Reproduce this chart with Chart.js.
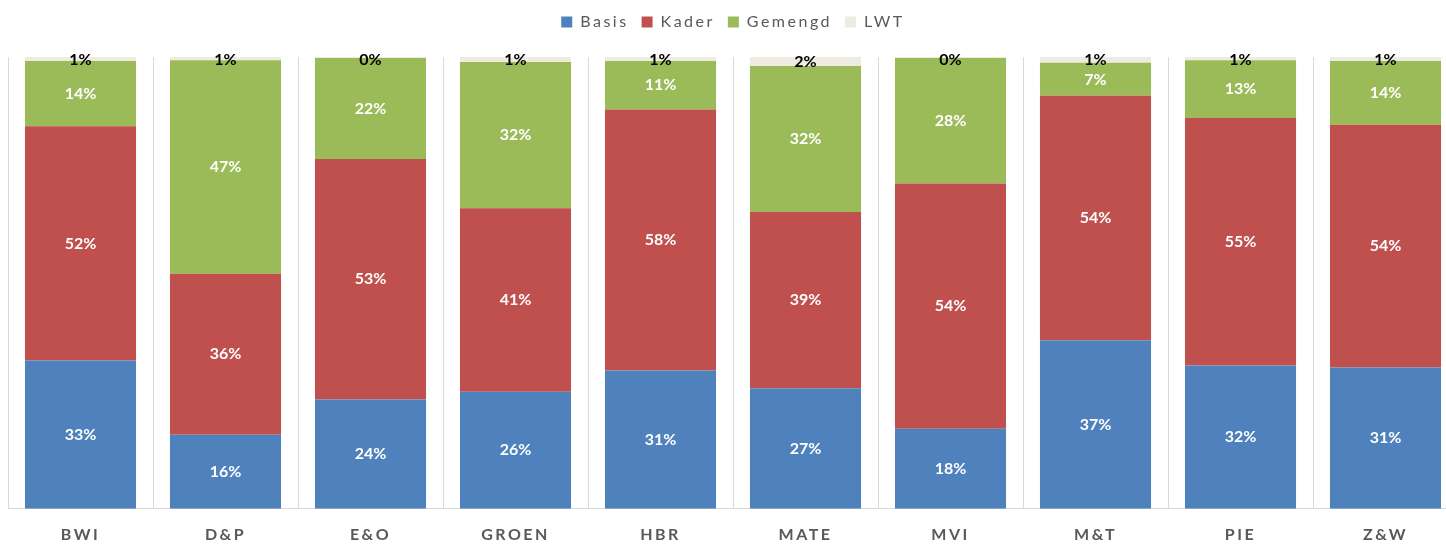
<!DOCTYPE html>
<html>
<head>
<meta charset="utf-8">
<script src="https://cdn.jsdelivr.net/npm/chart.js@4/dist/chart.umd.min.js"></script>
<style>
  html, body { margin: 0; padding: 0; background: #fff; overflow: hidden; }
  #wrap { width: 1446px; height: 547px; overflow: hidden; }
</style>
</head>
<body>
<div id="wrap"><canvas id="myChart" width="1458" height="547"></canvas></div>
<script>
// categorieen en aandelen (%)
var categories = ['BWI', 'D&P', 'E&O', 'GROEN', 'HBR', 'MATE', 'MVI', 'M&T', 'PIE', 'Z&W'];
var basis   = [32.8, 16.4, 24.2, 25.9, 30.6, 26.7, 17.7, 37.3, 31.7, 31.3];
var kader   = [51.9, 35.6, 53.2, 40.6, 57.8, 39.0, 54.3, 54.1, 54.8, 53.7];
var gemengd = [14.4, 47.3, 22.4, 32.4, 10.7, 32.3, 27.8,  7.3, 12.8, 14.1];
var lwt     = [ 0.9,  0.7,  0.2,  1.1,  0.9,  2.0,  0.2,  1.3,  0.7,  0.9];

// letterafstand zoals in Excel
var spacing = {
  id: 'spacing',
  beforeUpdate: function (chart) { chart.ctx.letterSpacing = '2.5px'; },
  beforeDraw: function (chart) { chart.ctx.letterSpacing = '2.5px'; },
};

// percentages in de balken
var barLabels = {
  id: 'barLabels',
  afterDatasetsDraw: function (chart) {
    var ctx = chart.ctx;
    ctx.save();
    ctx.letterSpacing = '0px';
    ctx.font = 'bold 16px Lato';
    ctx.textAlign = 'center';
    ctx.textBaseline = 'middle';
    chart.data.datasets.forEach(function (ds, i) {
      var meta = chart.getDatasetMeta(i);
      ctx.fillStyle = i === 3 ? '#000000' : '#ffffff';
      meta.data.forEach(function (bar, j) {
        var y = (bar.y + bar.base) / 2;
        if (i === 3) y = Math.max(y, chart.chartArea.top + 3);
        ctx.fillText(Math.round(ds.data[j]) + '%', bar.x, y);
      });
    });
    ctx.restore();
  },
};

var data = {
  labels: categories,
  datasets: [
    { label: 'Basis', data: basis, backgroundColor: '#4F81BD' },
    { label: 'Kader', data: kader, backgroundColor: '#C0504D' },
    { label: 'Gemengd', data: gemengd, backgroundColor: '#9BBB59' },
    { label: 'LWT', data: lwt, backgroundColor: '#EEECE1' },
  ],
};

var options = {
  responsive: false,
  animation: false,
  layout: { padding: { left: 8, right: 0, top: 1, bottom: -13 } },
  datasets: {
    bar: { categoryPercentage: 1, barPercentage: 0.766, borderWidth: 0 },
  },
  scales: {
    x: {
      stacked: true,
      grid: { offset: true, color: '#D9D9D9', drawTicks: false },
      border: { color: '#D9D9D9' },
      ticks: { color: '#595959', font: { family: 'Lato', size: 16, weight: 'bold' }, padding: 16 },
    },
    y: { stacked: true, display: false, min: 0, max: 100 },
  },
  plugins: {
    legend: {
      position: 'top',
      labels: {
        boxWidth: 11,
        boxHeight: 11,
        padding: 13,
        color: '#595959',
        font: { family: 'Lato', size: 16 },
      },
    },
    title: { display: true, text: '', weight: 0, padding: 0, font: { size: 17, lineHeight: 1 } },
    tooltip: { enabled: false },
  },
};

var ctx = document.getElementById('myChart').getContext('2d');
var myChart = new Chart(ctx, {
  type: 'bar',
  data: data,
  options: options,
  plugins: [spacing, barLabels],
});
</script>
</body>
</html>
